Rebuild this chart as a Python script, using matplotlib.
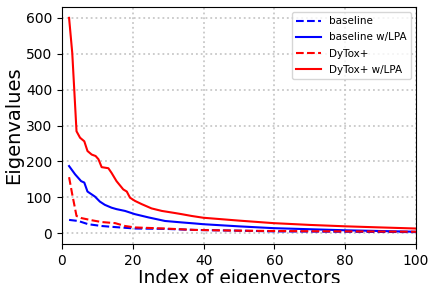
import matplotlib
matplotlib.use("Agg")
import matplotlib.pyplot as plt
import numpy as np

# values (index, eigenvalue)
idx_dytox_lpa = [2, 2.9, 4.1, 5.1, 6.3, 7.2, 8.4, 9.5, 10.3, 11.2, 13.1, 14, 15.4, 17.3, 18.3, 19.2,
                 20.6, 22.5, 25.3, 28.2, 32, 33.8, 36.6, 39.9, 50, 59.7, 70, 80.4, 90, 100]
val_dytox_lpa = [600, 502, 284, 266, 256, 229, 219, 215, 206, 184, 181, 168, 145, 122, 116, 99,
                 90, 81, 69, 62, 56, 53, 48, 43, 35, 28, 23, 19, 16, 13]

idx_base_lpa = [2, 3.7, 5.4, 6.3, 7.2, 8.4, 9.3, 10.7, 12.1, 14, 15.4, 17.8, 20.6, 24.4, 29.1,
                33.8, 37.6, 39.9, 50, 59.7, 70, 80.4, 90, 100]
val_base_lpa = [187, 164, 145, 141, 116, 108, 102, 88, 79, 71, 67, 62, 53, 44, 34,
                30, 27, 25, 19, 14, 11, 8, 6, 4]

idx_dytox = [2, 2.9, 4.1, 5.5, 8.4, 11.2, 15, 17.8, 20.6, 29, 37.6, 50, 60, 80, 100]
val_dytox = [156, 108, 48, 42, 36, 31, 28, 20, 16, 13, 9, 7, 6, 5, 4]

idx_base = [2, 4.6, 7.4, 11.2, 15, 20.6, 29, 37.6, 50, 60, 80, 100]
val_base = [37, 34, 25, 20, 17, 13, 12, 9, 7, 5, 4, 3]

fig = plt.figure(figsize=(4.32, 2.83), dpi=100)
ax = fig.add_axes([0.1435, 0.138, 0.8195, 0.837])

ax.plot(idx_base, val_base, '--', color='blue', lw=1.5, label='baseline')
ax.plot(idx_base_lpa, val_base_lpa, '-', color='blue', lw=1.5, label='baseline w/LPA')
ax.plot(idx_dytox, val_dytox, '--', color='red', lw=1.5, label='DyTox+')
ax.plot(idx_dytox_lpa, val_dytox_lpa, '-', color='red', lw=1.5, label='DyTox+ w/LPA')

ax.set_xlim(0, 100)
ax.set_ylim(-30, 630)
ax.set_xticks([0, 20, 40, 60, 80, 100])
ax.set_yticks([0, 100, 200, 300, 400, 500, 600])
ax.tick_params(labelsize=10)
ax.grid(True, linestyle=':', color='#c8c8c8', lw=1.3)
ax.set_xlabel('Index of eigenvectors', fontsize=13.5, labelpad=1)
ax.set_ylabel('Eigenvalues', fontsize=14, labelpad=2)
ax.legend(loc='upper right', fontsize=7.5, handlelength=2.4, labelspacing=0.58)

fig.savefig('out.png', dpi=100)
